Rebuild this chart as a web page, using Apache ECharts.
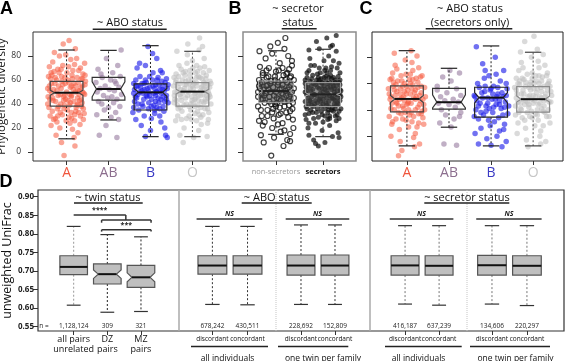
<!DOCTYPE html>
<html>
<head>
<meta charset="utf-8">
<script src="https://cdn.jsdelivr.net/npm/echarts@6.0.0/dist/echarts.min.js"></script>
<style>html,body{margin:0;padding:0;background:#fff}#main{width:566px;height:361px}</style>
</head>
<body>
<div id="main"></div>
<script>
var FONT = '"Open Sans", "Liberation Sans", sans-serif';

// ---- panels A/C : ABO groups ----
var aboCats = ['A', 'AB', 'B', 'O'];
var aboLabelColors = ['#f0553c', '#8c6e8e', '#3a3ac4', '#c6c6c6'];
var aboPointColors = ['rgba(246,92,66,0.7)', 'rgba(150,122,158,0.75)', 'rgba(28,28,232,0.78)', 'rgba(190,190,190,0.72)'];
// [low, q1, median, q3, high, notchLow, notchHigh]
var boxA = [[11, 38.3, 49.4, 58.9, 85, 47.3, 51.5], [26.7, 43.3, 52.5, 62.2, 84.7, 46, 58.5], [12.8, 35, 49.7, 56.7, 88.6, 46.5, 53], [12.8, 38.3, 50.3, 57.8, 83.9, 48.3, 52.3]];
var boxC = [[12.6, 38.5, 48.3, 58.2, 85, 45.5, 51], [26.8, 40.5, 45.8, 56.4, 71.6, 41.5, 51.5], [12.6, 34.4, 49.3, 57.2, 88.6, 45.3, 53.1], [12.6, 38.2, 48.1, 57.7, 83.8, 46, 50.5]];

// jittered points [offset, diversity]
var ptsA_A = [[-0.31,52],[0.12,47],[0.38,61],[-0.05,39],[0.22,55],[-0.40,44],[0.29,33],[-0.18,66],[0.05,58],[-0.27,28],[0.41,49],[-0.09,72],[0.17,42],[-0.36,57],[0.33,70],[-0.22,36],[0.08,24],[-0.43,63],[0.26,45],[-0.13,53],[0.36,38],[-0.02,81],[0.19,31],[-0.33,75],[0.44,56],[-0.07,46],[0.13,64],[-0.39,30],[0.24,78],[-0.16,20],[0.31,51],[-0.26,42],[0.02,35],[0.40,27],[-0.11,59],[0.15,68],[-0.35,49],[0.27,16],[-0.04,62],[0.21,86],[-0.29,83],[0.09,54],[-0.42,37],[0.35,44],[-0.20,47],[0.06,29],[-0.14,40],[0.43,74],[-0.24,60],[0.11,33],[0.28,58],[-0.37,22],[0.00,50],[-0.08,90],[0.18,12],[-0.30,67],[0.32,23],[-0.45,53],[0.04,43],[0.23,37],[-0.19,55],[0.39,65],[-0.01,26],[0.14,19],[-0.41,71],[0.30,48],[-0.12,8],[0.06,93],[-0.06,-3],[0.20,5],[-0.25,14],[0.37,41],[-0.34,34],[0.10,77],[-0.21,69],[0.25,62],[-0.44,46],[0.42,32],[-0.10,31],[0.16,52],[-0.28,57],[0.34,54],[-0.15,48],[0.01,66],[0.27,40],[-0.38,61],[0.07,39],[-0.03,57],[0.19,73],[-0.23,25],[0.45,59],[-0.32,43],[0.12,28],[-0.17,80],[0.38,50],
  [-0.33,45],[0.21,50],[-0.12,63],[0.40,36],[-0.04,47],[0.29,68],[-0.41,55],[0.09,41],[-0.23,51],[0.35,61],[-0.15,33],[0.03,60],[0.25,39],[-0.37,66],[0.17,57],[-0.07,43],[0.43,48],[-0.27,62],[0.11,46],[-0.19,38],[0.31,43],[-0.45,40],[0.05,71],[0.22,34],[-0.09,56],[0.38,55],[-0.31,27],[0.14,61],[-0.02,44],[0.27,51],[-0.40,51],[0.08,48],[-0.21,30],[0.33,30],[-0.13,69],[0.19,26],[-0.35,64],[0.44,64],[-0.06,36],[0.12,55]];
var ptsA_AB = [[0.30,85],[-0.05,78],[0.22,72],[-0.25,69],[0.10,66],[0.28,63],[-0.15,62],[0.05,60],[-0.30,58],[0.18,57],[-0.08,55],[0.25,54],[-0.20,53],[0.02,52],[0.14,51],[-0.27,50],[0.31,48],[-0.12,47],[0.08,46],[-0.02,45],[0.20,44],[-0.24,42],[0.12,41],[-0.16,40],[0.27,38],[0.00,37],[-0.10,35],[0.17,33],[-0.28,31],[0.06,29],[0.24,27],[-0.06,22],[-0.22,14],[0.20,12],[0.15,59],[-0.18,65]];
var ptsA_B = [[-0.30,55],[0.15,50],[0.35,58],[-0.10,47],[0.25,44],[-0.38,52],[0.05,60],[-0.20,40],[0.40,53],[-0.05,36],[0.18,62],[-0.33,45],[0.30,38],[-0.15,57],[0.08,49],[-0.42,33],[0.22,30],[-0.25,63],[0.12,42],[-0.02,54],[0.38,47],[-0.35,60],[0.02,28],[0.28,66],[-0.12,72],[0.20,56],[-0.28,35],[0.42,41],[-0.08,46],[0.10,35],[-0.40,57],[0.33,51],[-0.18,49],[0.06,66],[0.25,25],[-0.22,22],[0.15,78],[-0.32,70],[0.00,18],[0.36,14],[-0.06,88],[0.40,12],[-0.15,30],[0.18,45],[-0.38,42],[0.27,59],[-0.24,54],[0.03,44],[0.32,34],[-0.02,63],[0.12,56],[-0.30,48],[0.22,52],[-0.10,58],[0.08,39],[-0.35,27],[0.38,61],[-0.20,51],[0.30,46],[-0.04,41],[0.15,37],[-0.26,74],[0.05,82],[0.34,20],[-0.12,13],[0.24,68],[-0.40,37],[0.10,53],[-0.16,44],[0.42,56],
  [-0.26,50],[0.20,41],[0.06,55],[-0.14,52],[0.30,55],[-0.36,46],[0.12,47],[-0.04,50],[0.26,49],[-0.20,57],[0.38,44],[-0.30,40],[0.02,38],[0.16,60],[-0.08,53],[0.34,42],[-0.40,49],[0.10,32],[-0.18,38],[0.22,36],[-0.12,60],[0.28,52],[-0.02,47],[0.14,50],[-0.34,55]];
var ptsA_O = [[0.25,55],[-0.30,48],[0.10,62],[-0.15,40],[0.38,50],[-0.40,58],[0.05,44],[-0.22,66],[0.30,36],[-0.05,53],[0.18,70],[-0.35,30],[0.42,46],[-0.10,60],[0.12,34],[-0.28,52],[0.33,64],[-0.02,27],[0.22,42],[-0.44,62],[0.00,76],[-0.18,56],[0.36,24],[-0.32,72],[0.08,49],[0.27,58],[-0.08,38],[0.15,18],[-0.38,43],[0.40,68],[-0.25,34],[0.04,57],[0.20,29],[-0.12,81],[0.34,52],[-0.42,50],[0.14,47],[-0.20,20],[0.28,78],[-0.06,64],[0.44,40],[-0.34,54],[0.06,32],[0.23,61],[-0.16,45],[0.37,56],[-0.27,69],[0.02,41],[0.16,85],[-0.40,26],[0.31,44],[-0.09,50],[0.11,55],[-0.24,60],[0.39,33],[-0.02,46],[0.19,51],[-0.36,39],[0.26,48],[-0.13,74],[0.07,66],[-0.30,14],[0.42,59],[-0.19,53],[0.13,39],[-0.43,47],[0.29,71],[-0.04,35],[0.21,23],[-0.26,43],[0.35,13],[-0.11,90],[0.03,12],[0.24,88],[-0.37,84],[0.17,95],[-0.22,8],[0.09,58],[-0.14,28],[0.32,42],[-0.33,63],[0.01,70],[0.41,54],[-0.07,57],[0.14,63],[-0.29,37],[0.25,31],[-0.45,55],[0.05,49],[-0.17,67],[0.37,45],[-0.01,43],[0.20,37],[-0.39,65],[0.10,26],
  [0.31,57],[-0.21,51],[0.08,45],[-0.39,60],[0.18,62],[-0.04,40],[0.40,48],[-0.28,46],[0.12,67],[-0.14,56],[0.27,41],[-0.34,36],[0.02,53],[0.36,36],[-0.18,64],[0.22,54],[-0.08,30],[0.44,57],[-0.42,44],[0.14,43],[-0.24,49],[0.32,61],[-0.01,60],[0.06,38],[-0.30,57],[0.26,66],[-0.12,47],[0.38,27],[-0.36,50],[0.10,72],[-0.20,39],[0.20,47],[-0.06,68],[0.34,47],[-0.26,27],[0.00,55],[0.16,31],[-0.44,41],[0.28,53],[-0.16,59]];

var ptsC_A = [[0.18,53],[-0.26,46],[0.34,58],[-0.08,41],[0.06,63],[-0.38,50],[0.28,37],[-0.16,56],[0.40,44],[-0.02,32],[0.14,70],[-0.32,61],[0.24,27],[-0.12,49],[0.02,55],[-0.42,35],[0.36,66],[-0.20,43],[0.10,38],[-0.28,74],[0.30,51],[-0.06,60],[0.20,22],[-0.36,29],[0.42,57],[-0.14,66],[0.04,46],[0.26,42],[-0.24,54],[-0.40,48],[0.12,31],[-0.04,78],[0.32,47],[-0.18,25],[0.08,52],[-0.30,40],[0.38,34],[-0.10,58],[0.22,64],[-0.34,68],[0.00,44],[0.16,19],[-0.22,62],[0.28,72],[-0.44,56],[0.06,36],[-0.08,50],[0.34,53],[-0.26,33],[0.14,59],[-0.16,16],[0.40,29],[-0.02,67],[0.24,81],[-0.38,20],[0.10,85],[-0.30,83],[0.18,12],[-0.12,9],[0.30,14],[-0.20,5],[0.02,45],[0.36,39],[-0.06,54],[0.20,48],[-0.36,45],[0.08,60],[-0.24,71],[0.26,57],[-0.14,37],[0.44,50],[-0.40,63],[0.12,76],[-0.28,51],[0.04,27],[0.32,65],[-0.10,43],[0.20,40],[-0.32,58],[0.16,49],
  [0.22,50],[-0.30,55],[0.04,40],[-0.12,62],[0.30,44],[-0.20,38],[0.12,56],[-0.38,41],[0.38,48],[-0.06,47],[0.16,35],[-0.26,59],[0.26,61],[-0.02,52],[0.08,67],[-0.34,31],[0.34,37],[-0.16,52],[0.00,58],[-0.42,52],[0.20,55],[-0.10,33],[0.28,30],[-0.24,45],[0.10,45],[-0.36,64],[0.42,40],[-0.04,38],[0.14,63],[-0.18,48]];
var ptsC_AB = [[0.25,68],[-0.15,65],[0.05,62],[-0.28,58],[0.18,56],[-0.05,53],[0.28,51],[-0.20,50],[0.10,48],[-0.10,47],[0.22,46],[-0.25,45],[0.00,44],[0.15,42],[-0.18,40],[0.28,38],[-0.08,36],[0.12,33],[-0.22,30],[0.05,27],[-0.12,14],[0.18,13],[0.02,70],[-0.28,55],[0.25,35]];
var ptsC_B = [[-0.35,88],[0.10,80],[-0.20,75],[0.30,70],[-0.05,66],[0.22,62],[-0.32,60],[0.06,58],[0.38,56],[-0.15,54],[0.16,52],[-0.40,51],[0.28,50],[-0.08,49],[0.02,48],[0.34,46],[-0.26,45],[0.12,44],[-0.12,43],[0.24,41],[-0.36,40],[0.04,38],[0.40,37],[-0.18,36],[0.18,34],[-0.30,33],[0.08,31],[0.32,29],[-0.02,28],[-0.24,26],[0.20,24],[-0.38,22],[0.14,20],[-0.10,18],[0.36,16],[-0.30,14],[0.00,13],[0.26,12],[-0.16,64],[0.12,67],[-0.28,57],[0.36,60],[-0.02,55],[0.20,47],[-0.34,47],[0.06,42],[-0.12,39],[0.28,36],[-0.22,53],[0.42,43],[-0.06,32],[0.16,57],[-0.40,35],[0.30,25],[-0.14,70],
  [0.04,52],[-0.20,49],[0.26,53],[-0.08,45],[0.14,50],[-0.30,43],[0.32,42],[-0.14,58],[0.00,56],[0.20,44],[-0.38,50],[0.10,48],[-0.24,38],[0.36,51],[-0.04,41]];
var ptsC_O = [[0.20,54],[-0.25,48],[0.36,60],[-0.10,42],[0.06,66],[-0.38,52],[0.28,38],[-0.18,58],[0.42,46],[-0.02,34],[0.14,72],[-0.32,62],[0.24,28],[-0.12,50],[0.02,56],[-0.42,36],[0.34,68],[-0.20,44],[0.10,40],[-0.28,76],[0.30,52],[-0.06,61],[0.18,24],[-0.36,30],[0.40,58],[-0.14,67],[0.04,47],[0.26,43],[-0.24,55],[-0.40,49],[0.12,32],[-0.04,80],[0.32,48],[-0.18,26],[0.08,53],[-0.30,41],[0.38,35],[-0.08,59],[0.22,65],[-0.34,70],[0.00,45],[0.16,20],[-0.22,63],[0.28,74],[-0.44,57],[0.06,37],[-0.08,51],[0.34,55],[-0.26,34],[0.14,60],[-0.16,17],[0.40,30],[-0.02,68],[0.24,82],[-0.38,22],[0.10,86],[-0.30,84],[0.18,14],[-0.12,12],[0.30,16],[-0.20,92],[0.02,96],[0.36,40],[-0.06,55],[0.20,49],[-0.36,46],[0.08,62],[-0.24,72],[0.26,58],[-0.14,38],[0.44,51],[-0.40,64],[0.12,77],[-0.28,52],[0.04,28],[0.32,66],[-0.10,44],[0.20,41],[-0.32,59],[0.16,50],[-0.42,43],[0.38,62],[-0.04,39],[0.10,56],[-0.18,47],
  [-0.22,52],[0.12,44],[0.28,50],[-0.34,38],[0.02,60],[-0.14,46],[0.38,46],[-0.26,64],[0.18,57],[-0.04,48],[0.32,35],[-0.40,55],[0.06,50],[-0.18,61],[0.24,39],[-0.08,35],[0.42,54],[-0.30,45],[0.14,66],[-0.10,57],[0.26,47],[-0.36,60],[0.00,51],[0.20,62],[-0.28,40],[0.10,36],[-0.02,64],[0.34,59],[-0.20,32],[0.16,45]];

// ---- panel B : secretor status ----
var secCats = ['non-secretors', 'secretors'];
var boxB = [[14.7, 41.4, 50.8, 59.2, 84.4, 48.5, 53], [12.8, 37.8, 48, 57.8, 85.6, 46.8, 49.2]];
var ptsB_non = [[-0.20,55],[0.15,48],[0.30,62],[-0.32,44],[0.05,58],[-0.10,40],[0.25,52],[-0.28,66],[0.35,36],[0.00,50],[-0.36,60],[0.18,42],[-0.15,70],[0.10,32],[0.32,56],[-0.25,47],[0.22,65],[-0.05,28],[0.38,45],[-0.34,53],[0.08,74],[-0.18,35],[0.28,39],[-0.02,63],[0.14,24],[-0.30,30],[0.34,72],[-0.12,57],[0.20,51],[-0.38,38],[0.02,45],[0.26,80],[-0.22,78],[0.12,60],[-0.08,20],[0.36,27],[-0.28,22],[0.06,68],[-0.16,52],[0.30,15],[-0.35,84],[0.18,86],[-0.04,12],[0.24,10],[-0.26,8],[0.10,17],[0.37,20],[-0.12,88],[0.04,91],[0.20,95],[-0.32,14],[-0.10,-3],[0.16,5],[-0.20,62],[0.32,48],[-0.06,54],[0.26,43],[-0.38,50],[0.08,37],[-0.24,41],[0.14,56],[0.38,60],[-0.14,46],[0.00,67],[0.22,33],[-0.30,58],[0.28,54],[-0.02,40],[0.12,49],[-0.36,26],[0.34,76],[-0.18,30],[0.04,23],[0.30,9],[-0.08,82],[0.18,18],[-0.28,64],[0.06,44],[-0.34,71],[0.24,66],
  [-0.22,49],[0.12,53],[0.28,46],[-0.34,57],[0.02,41],[-0.10,59],[0.34,50],[-0.28,44],[0.18,38],[-0.04,47],[0.24,58],[-0.16,63],[0.08,52],[-0.38,46],[0.36,41],[-0.06,36],[0.16,64],[-0.26,52],[0.30,34],[-0.14,42],[0.04,56],[0.22,47],[-0.32,35],[0.10,43],[-0.20,68],[0.38,53],[-0.02,60],[0.26,29],[-0.36,55],[0.14,70],[-0.08,33],[0.32,63],[-0.24,25],[0.00,38],[0.20,60],[-0.30,49],[0.06,31],[-0.12,50],[0.28,69],[-0.18,56]];
var ptsB_sec = [[0.00,50],[0.20,45],[-0.25,55],[0.32,40],[-0.10,62],[0.12,35],[-0.35,48],[0.26,58],[-0.05,42],[0.36,52],[-0.20,38],[0.08,66],[-0.30,32],[0.16,54],[-0.14,47],[0.30,70],[-0.38,60],[0.04,30],[0.22,44],[-0.02,57],[-0.28,43],[0.34,34],[0.10,49],[-0.18,72],[0.28,26],[-0.08,53],[0.18,61],[-0.34,36],[0.02,76],[0.38,46],[-0.22,64],[0.14,22],[-0.12,41],[0.24,50],[-0.36,27],[0.06,59],[0.32,63],[-0.04,34],[0.20,37],[-0.26,51],[0.12,80],[-0.16,24],[0.36,56],[-0.30,68],[0.00,44],[0.26,48],[-0.10,29],[0.16,68],[-0.38,42],[0.08,39],[-0.20,57],[0.30,31],[-0.06,66],[0.22,55],[-0.32,20],[0.04,52],[0.34,74],[-0.14,60],[0.14,28],[-0.24,46],[0.28,84],[-0.02,18],[0.10,57],[-0.28,78],[0.38,36],[-0.18,48],[0.18,45],[-0.36,54],[0.02,62],[0.24,40],[-0.08,86],[0.32,16],[-0.22,33],[0.06,70],[-0.30,14],[0.20,13],[-0.12,54],[0.36,66],[-0.04,38],[0.14,47],[-0.34,62],[0.26,60],[-0.16,43],[0.00,25],[0.30,51],[-0.26,72],[0.10,33],[-0.06,49],[0.22,76],[-0.38,31],[0.16,88],[-0.20,10],[0.04,8],[0.34,12],[-0.14,92],[0.08,95],[0.28,97],[-0.30,85],[0.20,89],[-0.10,5],[-0.16,7],[0.12,42],[-0.24,39],[0.36,43],[-0.02,58],[0.18,35],[-0.32,45],[0.06,41],[0.26,30],[-0.08,70],
  [0.02,47],[-0.22,52],[0.30,45],[-0.12,36],[0.14,58],[-0.34,51],[0.24,53],[-0.04,61],[0.36,48],[-0.26,42],[0.08,45],[-0.16,56],[0.28,39],[-0.08,44],[0.18,52],[-0.38,57],[0.06,63],[0.34,58],[-0.20,48],[0.12,38],[-0.30,40],[0.22,62],[-0.02,53],[0.38,51],[-0.28,59],[0.10,54],[-0.14,33],[0.26,43],[-0.36,38],[0.04,36],[0.32,48],[-0.10,58],[0.16,64],[-0.24,61],[0.00,40],[0.20,57],[-0.32,54],[0.08,51],[-0.18,40],[0.28,55],[-0.06,45],[0.14,30],[-0.38,50],[0.36,60],[-0.12,65],[0.22,34],[-0.26,35],[0.04,68],[0.30,41],[-0.02,31],[0.18,71],[-0.34,66],[0.10,27],[-0.20,28],[0.26,36],[-0.08,60],[0.34,28],[-0.30,24],[0.02,55],[0.12,62]];

// ---- panel D : unweighted UniFrac ----
var twinCats = ['all pairs\nunrelated', 'DZ\npairs', 'MZ\npairs'];
var twinBox = [[0.608, 0.690, 0.711, 0.741, 0.820], [0.589, 0.665, 0.6915, 0.719, 0.798, 0.680, 0.703], [0.591, 0.656, 0.683, 0.715, 0.792, 0.671, 0.695]];
var twinN = ['1,128,124', '309', '321'];
var pairCats = ['discordant', 'concordant'];
var aboAllBox = [[0.610, 0.6915, 0.7147, 0.741, 0.820], [0.609, 0.6915, 0.7147, 0.741, 0.820]];
var aboAllN = ['678,242', '430,511'];
var aboTwinBox = [[0.610, 0.689, 0.7147, 0.743, 0.824], [0.610, 0.689, 0.7147, 0.743, 0.824]];
var aboTwinN = ['228,692', '152,809'];
var secAllBox = [[0.611, 0.689, 0.7150, 0.741, 0.822], [0.608, 0.689, 0.7140, 0.741, 0.822]];
var secAllN = ['416,187', '637,239'];
var secTwinBox = [[0.611, 0.689, 0.7155, 0.742, 0.822], [0.607, 0.689, 0.7140, 0.741, 0.822]];
var secTwinN = ['134,606', '220,297'];
// [from, to, y, drop]
var twinSig = [[0, 1.55, 0.851, 0], [1.55, 1.55, 0.851, 0.014], [0.83, 2.3, 0.837, 0.007], [0.83, 2.3, 0.811, 0.005]];
var twinSigText = ['****', '', '', '***'];
var nsSig = [[-0.45, 1.42, 0.84, 0]];
var nsText = ['NS'];

var chart = echarts.init(document.getElementById('main'));

function pick(v, i) { return Array.isArray(v) ? v[i] : v; }

function boxSeries(axis, boxes, st) {
  return {
    type: 'custom', xAxisIndex: axis, yAxisIndex: axis, z: 5, silent: true,
    data: boxes.map(function (b, i) { return [i, b[2]]; }),
    renderItem: function (params, api) {
      var i = params.dataIndex, b = boxes[i];
      var P = function (dx, v) { return api.coord([i + dx, v]); };
      var Y = function (v) { return P(0, v)[1]; };
      var L = P(-st.halfW, b[2])[0], R = P(st.halfW, b[2])[0], M = P(0, b[2])[0];
      var cap = (R - L) / 2 * st.cap;
      var ind = 0, pts;
      if (b.length > 5) {
        ind = (R - L) * st.indent;
        pts = [[L, Y(b[3])], [R, Y(b[3])], [R, Y(b[6])], [R - ind, Y(b[2])], [R, Y(b[5])], [R, Y(b[1])], [L, Y(b[1])], [L, Y(b[5])], [L + ind, Y(b[2])], [L, Y(b[6])]];
      } else {
        pts = [[L, Y(b[3])], [R, Y(b[3])], [R, Y(b[1])], [L, Y(b[1])]];
      }
      var wc = pick(st.whisker, i), cc = pick(st.capColor, i);
      var ch = [
        {type: 'line', shape: {x1: M, y1: Y(b[3]), x2: M, y2: Y(b[4])}, style: {stroke: wc, lineWidth: 1, lineDash: [2, 2]}},
        {type: 'line', shape: {x1: M, y1: Y(b[1]), x2: M, y2: Y(b[0])}, style: {stroke: wc, lineWidth: 1, lineDash: [2, 2]}},
        {type: 'line', shape: {x1: M - cap, y1: Y(b[4]), x2: M + cap, y2: Y(b[4])}, style: {stroke: cc, lineWidth: 1.2}},
        {type: 'line', shape: {x1: M - cap, y1: Y(b[0]), x2: M + cap, y2: Y(b[0])}, style: {stroke: cc, lineWidth: 1.2}},
        {type: 'polygon', shape: {points: pts}, style: {fill: st.fill, stroke: pick(st.stroke, i), lineWidth: st.lw}},
        {type: 'line', shape: {x1: L + ind, y1: Y(b[2]), x2: R - ind, y2: Y(b[2])}, style: {stroke: st.median, lineWidth: 2}}
      ];
      if (st.n) {
        ch.push({type: 'text', x: M, y: Y(st.nY), style: {text: st.n[i], font: '6.5px ' + FONT, fill: '#222', align: 'center', verticalAlign: 'middle', textAlign: 'center', textVerticalAlign: 'middle'}});
      }
      if (st.cats) {
        // category name under the axis tick
        ch.push({type: 'text', x: M, y: Y(st.catY), style: {text: st.cats[i], font: '6.5px ' + FONT, fill: '#111', align: 'center', verticalAlign: 'middle', textAlign: 'center', textVerticalAlign: 'middle'}});
      }
      return {type: 'group', children: ch};
    }
  };
}

function bracketSeries(axis, items, labels, font) {
  return {
    type: 'custom', xAxisIndex: axis, yAxisIndex: axis, z: 6, silent: true,
    data: items.map(function (b) { return [b[0], b[2]]; }),
    renderItem: function (params, api) {
      var b = items[params.dataIndex];
      var p1 = api.coord([b[0], b[2]]), p2 = api.coord([b[1], b[2]]);
      var s = {stroke: '#333', lineWidth: 1.5};
      var ch = [{type: 'line', shape: {x1: p1[0], y1: p1[1], x2: p2[0], y2: p2[1]}, style: s}];
      if (b[3] > 0) {
        var yd = api.coord([b[0], b[2] - b[3]])[1];
        ch.push({type: 'line', shape: {x1: p1[0], y1: p1[1], x2: p1[0], y2: yd}, style: s});
        if (b[1] !== b[0]) ch.push({type: 'line', shape: {x1: p2[0], y1: p2[1], x2: p2[0], y2: yd}, style: s});
      }
      var lab = labels[params.dataIndex];
      if (lab) {
        ch.push({type: 'text', x: (p1[0] + p2[0]) / 2, y: p1[1] - 1, style: {text: lab, font: font, fill: '#222', align: 'center', verticalAlign: 'bottom', textAlign: 'center', textVerticalAlign: 'bottom'}});
      }
      return {type: 'group', children: ch};
    }
  };
}

function jitterSeries(axis, pts, i, itemStyle, size) {
  return {
    type: 'scatter', xAxisIndex: axis, yAxisIndex: axis, z: 2, silent: true,
    symbolSize: size, itemStyle: itemStyle,
    data: pts.map(function (p) { return [i + p[0], p[1]]; })
  };
}

function catAxis(grid, min, max, labels, label, name) {
  var ticks = labels.map(function (l, i) { return i; });
  var ax = {
    type: 'value', gridIndex: grid, min: min, max: max,
    splitLine: {show: false}, axisLine: {show: false, onZero: false},
    axisTick: {show: true, customValues: ticks, length: 4, lineStyle: {color: '#333', width: 1}},
    axisLabel: Object.assign({customValues: ticks, fontFamily: FONT, color: '#222', showMinLabel: true, showMaxLabel: true,
      formatter: function (v) { return labels[Math.round(v)]; }}, label)
  };
  if (name) {
    ax.name = name; ax.nameLocation = 'middle'; ax.nameGap = 23;
    ax.nameTextStyle = {fontFamily: FONT, fontSize: 8.5, color: '#111'};
  }
  return ax;
}

var richABO = {};
aboCats.forEach(function (c, i) { richABO['c' + i] = {color: aboLabelColors[i], fontSize: 14, fontFamily: FONT}; });
var aboLabel = {margin: 5, formatter: function (v) { return '{c' + Math.round(v) + '|' + aboCats[Math.round(v)] + '}'; }, rich: richABO};

var divTicks = [0, 20, 40, 60, 80];
var dTicks = [0.55, 0.6, 0.65, 0.7, 0.75, 0.8, 0.85, 0.9];
var dMin = 0.5385, dMax = 0.918;
var noLabel = {show: false};

var xAxes = [
  catAxis(0, -0.8, 3.8, aboCats, aboLabel),
  catAxis(1, -0.7, 1.7, secCats, {margin: 7, fontSize: 7.5,
    formatter: function (v) { return Math.round(v) === 0 ? '{g|' + secCats[0] + '}' : '{k|' + secCats[1] + '}'; },
    rich: {g: {color: '#999', fontSize: 7.5, fontFamily: FONT}, k: {color: '#111', fontSize: 7.5, fontWeight: 'bold', fontFamily: FONT}}}),
  catAxis(2, -0.83, 3.71, aboCats, aboLabel),
  catAxis(3, -1.06, 3.13, twinCats, {margin: 4, fontSize: 9, lineHeight: 9.5, color: '#111'}),
  catAxis(4, -0.95, 1.81, pairCats, noLabel, 'all individuals'),
  catAxis(5, -0.735, 2.03, pairCats, noLabel, 'one twin per family'),
  catAxis(6, -1.03, 1.82, pairCats, noLabel, 'all individuals'),
  catAxis(7, -0.714, 2.06, pairCats, noLabel, 'one twin per family')
];

var yAxes = [
  {type: 'value', gridIndex: 0, min: -7.5, max: 100, splitLine: {show: false}, axisLine: {show: false, onZero: false},
    axisTick: {show: true, customValues: divTicks, length: 5, lineStyle: {color: '#333'}},
    axisLabel: {customValues: divTicks, fontFamily: FONT, fontSize: 8.5, color: '#333', margin: 12},
    name: 'Phylogenetic diversity', nameLocation: 'middle', nameGap: 19, nameRotate: 90,
    nameTextStyle: {fontFamily: FONT, fontSize: 11.5, color: '#111'}},
  {type: 'value', gridIndex: 1, min: -7.5, max: 100, splitLine: {show: false}, axisLine: {show: false, onZero: false},
    axisTick: {show: true, customValues: divTicks, length: 5, lineStyle: {color: '#333'}}, axisLabel: {show: false}},
  {type: 'value', gridIndex: 2, min: 1.1, max: 99.2, splitLine: {show: false}, axisLine: {show: false, onZero: false},
    axisTick: {show: true, customValues: [20, 40, 60, 80], length: 5, lineStyle: {color: '#333'}}, axisLabel: {show: false}},
  {type: 'value', gridIndex: 3, min: dMin, max: dMax, splitLine: {show: false}, axisLine: {show: false, onZero: false},
    axisTick: {show: true, customValues: dTicks, length: 5, lineStyle: {color: '#333'}},
    axisLabel: {customValues: dTicks, fontFamily: FONT, fontSize: 8, fontWeight: 'bold', color: '#222', margin: 4,
      formatter: function (v) { return v.toFixed(2); }},
    name: 'unweighted UniFrac', nameLocation: 'middle', nameGap: 23, nameRotate: 90,
    nameTextStyle: {fontFamily: FONT, fontSize: 12.5, color: '#111'}}
];
[4, 5, 6, 7].forEach(function (g) { yAxes.push({type: 'value', gridIndex: g, min: dMin, max: dMax, show: false, axisLine: {onZero: false}}); });

var aboBoxStyle = {halfW: 0.39, cap: 0.5, indent: 0.13, fill: 'none', lw: 1.2, median: '#111',
  stroke: ['#444', '#333', '#222', '#8a8a8a'], whisker: ['#222', '#222', '#222', '#555'], capColor: ['#222', '#222', '#222', '#444']};
var dStyle = function (n, whisker, cats) {
  return {halfW: 0.41, cap: 0.5, indent: 0.17, fill: '#bfbfbf', lw: 1.2, median: '#111', stroke: '#555',
    whisker: whisker, capColor: '#333', n: n, nY: 0.5516, cats: cats, catY: 0.5165};
};

var series = [];
[ptsA_A, ptsA_AB, ptsA_B, ptsA_O].forEach(function (p, i) {
  series.push(jitterSeries(0, p, i, {color: aboPointColors[i]}, 5.5));
});
series.push(boxSeries(0, boxA, aboBoxStyle));
series.push(jitterSeries(1, ptsB_non, 0, {color: 'rgba(0,0,0,0)', borderColor: '#111', borderWidth: 1.2}, 5));
series.push(jitterSeries(1, ptsB_sec, 1, {color: 'rgba(15,15,15,0.9)'}, 5));
series.push(boxSeries(1, boxB, {halfW: 0.37, cap: 0.45, indent: 0.12, fill: 'rgba(70,70,70,0.6)', lw: 1,
  median: '#222', stroke: '#a8a8a8', whisker: '#333', capColor: '#333'}));
[ptsC_A, ptsC_AB, ptsC_B, ptsC_O].forEach(function (p, i) {
  series.push(jitterSeries(2, p, i, {color: aboPointColors[i]}, 5.5));
});
series.push(boxSeries(2, boxC, aboBoxStyle));
series.push(boxSeries(3, twinBox, dStyle(twinN, ['#999', '#222', '#222'])));
series.push(bracketSeries(3, twinSig, twinSigText, 'bold 7px ' + FONT));
series.push(boxSeries(4, aboAllBox, dStyle(aboAllN, '#333', pairCats)));
series.push(boxSeries(5, aboTwinBox, dStyle(aboTwinN, '#333', pairCats)));
series.push(boxSeries(6, secAllBox, dStyle(secAllN, '#777', pairCats)));
series.push(boxSeries(7, secTwinBox, dStyle(secTwinN, '#777', pairCats)));
[4, 5, 6, 7].forEach(function (g) { series.push(bracketSeries(g, nsSig, nsText, 'italic bold 7px ' + FONT)); });

function txt(x, y, s, font, color) {
  return {type: 'text', x: x, y: y, z: 20, silent: true, style: {text: s, font: font, fill: color || '#111',
    align: 'center', verticalAlign: 'middle', textAlign: 'center', textVerticalAlign: 'middle'}};
}
function ln(x1, y1, x2, y2, color, w, dash) {
  return {type: 'line', z: 20, silent: true, shape: {x1: x1, y1: y1, x2: x2, y2: y2},
    style: {stroke: color || '#222', lineWidth: w || 1.5, lineDash: dash || null}};
}
var TF = '11px ' + FONT;
var LF = 'bold 18px "Liberation Sans", Arial, sans-serif';

var graphics = [
  txt(6.5, 9.5, 'A', LF, '#000'), txt(235, 9.5, 'B', LF, '#000'), txt(366, 9.5, 'C', LF, '#000'), txt(6, 182.5, 'D', LF, '#000'),
  txt(130, 22.5, '~ ABO status', TF), ln(92.7, 29.3, 166.7, 29.3),
  txt(298, 8.5, '~ secretor', TF), txt(298, 22.5, 'status', TF), ln(281.7, 28.7, 316.7, 28.7),
  txt(470, 8.5, '~ ABO status', TF), txt(470, 22.5, '(secretors only)', TF), ln(425.7, 28.7, 512.3, 28.7),
  {type: 'rect', z: 19, silent: true, shape: {x: 38, y: 190, width: 526, height: 141}, style: {fill: 'none', stroke: '#333', lineWidth: 1.2}},
  ln(179, 190, 179, 331, '#aaa', 1.5), ln(370, 190, 370, 331, '#aaa', 1.5),
  ln(276, 190, 276, 331, '#c4c4c4', 1, [1, 1]), ln(467, 190, 467, 331, '#c4c4c4', 1, [1, 1]),
  txt(108, 197.5, '~ twin status', TF), ln(74, 203, 142.7, 203),
  txt(276.7, 197.5, '~ ABO status', TF), ln(241.7, 203, 311.7, 203),
  txt(467, 197.5, '~ secretor status', TF), ln(424.3, 203, 509.3, 203),
  txt(44, 326, 'n =', '6.5px ' + FONT, '#222'),
  ln(191, 346.5, 268, 346.5), ln(278, 346.5, 348.3, 346.5), ln(385, 346.5, 461.7, 346.5), ln(470, 346.5, 550, 346.5)
];

var option = {
  animation: false,
  backgroundColor: '#fff',
  textStyle: {fontFamily: FONT},
  grid: [
    {left: 33, top: 32, width: 193, height: 129, show: true, borderColor: '#333', borderWidth: 1, outerBoundsMode: 'none'},
    {left: 243, top: 32, width: 113, height: 129, show: true, borderColor: '#8c8c8c', borderWidth: 1.5, outerBoundsMode: 'none'},
    {left: 372, top: 32, width: 191, height: 129, show: true, borderColor: '#222', borderWidth: 1, outerBoundsMode: 'none'},
    {left: 38, top: 190, width: 141, height: 141, outerBoundsMode: 'none'},
    {left: 179, top: 190, width: 97, height: 141, outerBoundsMode: 'none'},
    {left: 276, top: 190, width: 94, height: 141, outerBoundsMode: 'none'},
    {left: 370, top: 190, width: 97, height: 141, outerBoundsMode: 'none'},
    {left: 467, top: 190, width: 97, height: 141, outerBoundsMode: 'none'}
  ],
  xAxis: xAxes,
  yAxis: yAxes,
  series: series,
  graphic: {elements: graphics}
};

chart.setOption(option);
</script>
</body>
</html>
